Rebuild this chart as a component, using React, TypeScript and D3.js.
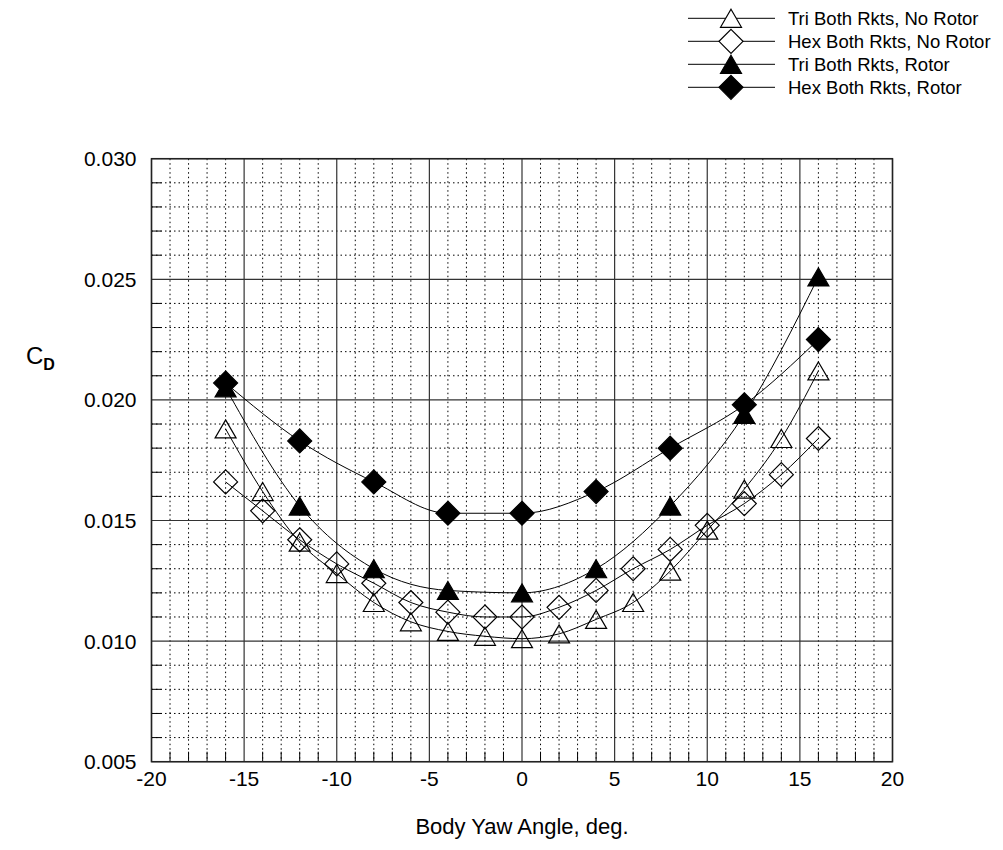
import React from "react";
import * as d3 from "d3";

const xNoRotor = [-16, -14, -12, -10, -8, -6, -4, -2, 0, 2, 4, 6, 8, 10, 12, 14, 16];
const xRotor = [-16, -12, -8, -4, 0, 4, 8, 12, 16];
const triNoRotor = [0.0188, 0.0162, 0.0141, 0.0128, 0.0116, 0.0108, 0.0104, 0.0102, 0.0101, 0.0103, 0.0109, 0.0116, 0.0129, 0.0146, 0.0163, 0.0184, 0.0212];
const hexNoRotor = [0.0166, 0.0154, 0.0142, 0.0132, 0.0124, 0.0116, 0.0112, 0.0110, 0.0110, 0.0114, 0.0121, 0.0130, 0.0138, 0.0148, 0.0157, 0.0169, 0.0184];
const triRotor = [0.0205, 0.0156, 0.0130, 0.0121, 0.0120, 0.0130, 0.0156, 0.0194, 0.0251];
const hexRotor = [0.0207, 0.0183, 0.0166, 0.0153, 0.0153, 0.0162, 0.0180, 0.0198, 0.0225];
const legendLabels = ["Tri Both Rkts, No Rotor", "Hex Both Rkts, No Rotor", "Tri Both Rkts, Rotor", "Hex Both Rkts, Rotor"];
const xTicks = [-20, -15, -10, -5, 0, 5, 10, 15, 20];
const yTicks = [0.005, 0.01, 0.015, 0.02, 0.025, 0.03];

const L = 151.5, R = 892.5, T = 158.7, B = 761.7;
const FONT = "Arial, 'Liberation Sans', sans-serif";

type Series = { xs: number[]; ys: number[]; shape: "tri" | "dia"; filled: boolean; label: string };
const series: Series[] = [
  { xs: xNoRotor, ys: triNoRotor, shape: "tri", filled: false, label: legendLabels[0] },
  { xs: xNoRotor, ys: hexNoRotor, shape: "dia", filled: false, label: legendLabels[1] },
  { xs: xRotor, ys: triRotor, shape: "tri", filled: true, label: legendLabels[2] },
  { xs: xRotor, ys: hexRotor, shape: "dia", filled: true, label: legendLabels[3] },
];

function markerPath(shape: "tri" | "dia", cx: number, cy: number) {
  if (shape === "tri") {
    const w = 10.5, h = 9;
    return `M${cx},${cy - h}L${cx + w},${cy + h}L${cx - w},${cy + h}Z`;
  }
  const s = 12;
  return `M${cx},${cy - s}L${cx + s},${cy}L${cx},${cy + s}L${cx - s},${cy}Z`;
}

export default function App() {
  const x = d3.scaleLinear().domain([-20, 20]).range([L, R]);
  const y = d3.scaleLinear().domain([0.005, 0.03]).range([B, T]);
  const minorX = d3.range(-20, 20.001, 1).filter((v) => Math.abs(v % 5) > 1e-9);
  const minorY = d3.range(5, 30.001, 1).filter((v) => v % 5 !== 0).map((v) => v / 1000);
  const line = d3.line<[number, number]>().x((d) => x(d[0])).y((d) => y(d[1])).curve(d3.curveMonotoneX);

  return (
    <svg width={1003} height={850} style={{ position: "absolute", left: 0, top: 0, background: "#fff" }} fontFamily={FONT}>
      <rect x={0} y={0} width={1003} height={850} fill="#fff" />
      {minorX.map((v) => (
        <line key={"mx" + v} x1={x(v)} x2={x(v)} y1={T} y2={B} stroke="#000" strokeWidth={1} strokeDasharray="1.5,3" />
      ))}
      {minorY.map((v) => (
        <line key={"my" + v} x1={L} x2={R} y1={y(v)} y2={y(v)} stroke="#000" strokeWidth={1} strokeDasharray="1.5,3" />
      ))}
      {minorX.map((v) => (
        <line key={"tx" + v} x1={x(v)} x2={x(v)} y1={B} y2={B - 10} stroke="#000" strokeWidth={1} />
      ))}
      {minorY.map((v) => (
        <line key={"ty" + v} x1={L} x2={L + 10} y1={y(v)} y2={y(v)} stroke="#000" strokeWidth={1} />
      ))}
      {xTicks.map((v) => (
        <line key={"gx" + v} x1={x(v)} x2={x(v)} y1={T} y2={B} stroke="#333" strokeWidth={1.2} />
      ))}
      {yTicks.map((v) => (
        <line key={"gy" + v} x1={L} x2={R} y1={y(v)} y2={y(v)} stroke="#333" strokeWidth={1.2} />
      ))}
      <rect x={L} y={T} width={R - L} height={B - T} fill="none" stroke="#222" strokeWidth={1.5} />
      {xTicks.map((v) => (
        <text key={"lx" + v} x={x(v)} y={B + 24} fontSize={21} textAnchor="middle">{v}</text>
      ))}
      {yTicks.map((v) => (
        <text key={"ly" + v} x={L - 15} y={y(v) + 7.5} fontSize={21} textAnchor="end">{v.toFixed(3)}</text>
      ))}
      <text x={(L + R) / 2} y={834} fontSize={22} textAnchor="middle">Body Yaw Angle, deg.</text>
      <text x={26} y={364} fontSize={24}>C<tspan fontSize={16} fontWeight="bold" dy={6} dx={0}>D</tspan></text>
      {series.map((s, i) => (
        <g key={"s" + i}>
          <path d={line(s.xs.map((xv, j) => [xv, s.ys[j]] as [number, number])) || ""} fill="none" stroke="#000" strokeWidth={1} />
          {s.xs.map((xv, j) => (
            <path key={j} d={markerPath(s.shape, x(xv), y(s.ys[j]))} fill={s.filled ? "#000" : "none"} stroke="#000" strokeWidth={1.2} />
          ))}
        </g>
      ))}
      {series.map((s, i) => {
        const ly = 18.3 + i * 23;
        return (
          <g key={"lg" + i}>
            <line x1={688} x2={775} y1={ly} y2={ly} stroke="#000" strokeWidth={1} />
            <path d={markerPath(s.shape, 731, ly)} fill={s.filled ? "#000" : "#fff"} stroke="#000" strokeWidth={1.2} />
            <text x={788} y={ly + 6.5} fontSize={18.5}>{s.label}</text>
          </g>
        );
      })}
    </svg>
  );
}
